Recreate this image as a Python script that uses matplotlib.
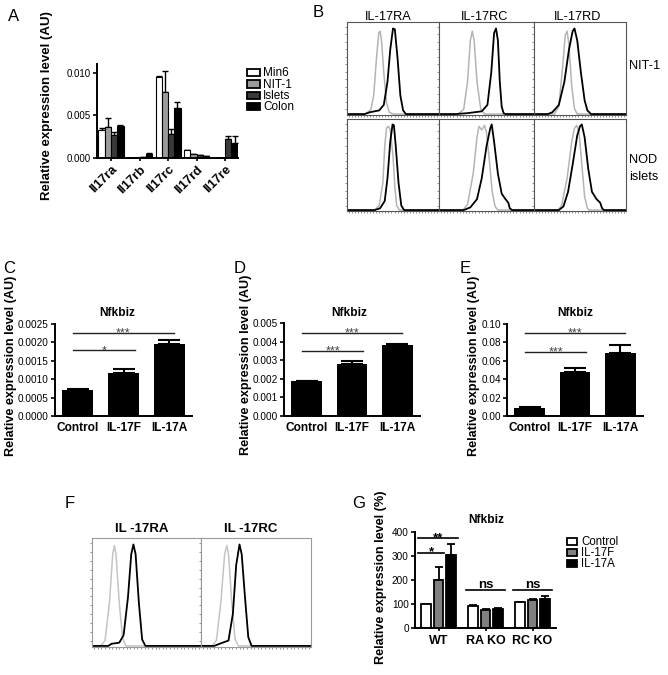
import numpy as np
import matplotlib
matplotlib.use('Agg')
import matplotlib.pyplot as plt
from matplotlib.patches import Rectangle

plt.rcParams['font.family'] = ['Liberation Sans', 'DejaVu Sans']

# ---- data: panel A (qPCR of IL-17 receptors) ----
genes = ['Il17ra', 'Il17rb', 'Il17rc', 'Il17rd', 'Il17re']
a_sources = ['Min6', 'NIT-1', 'Islets', 'Colon']
a_min6 = [0.0033, 0.0, 0.00945, 0.0009, 0.0]
a_nit1 = [0.0036, 0.0, 0.0077, 0.0005, 0.0]
a_islets = [0.0027, 0.0001, 0.0028, 0.0004, 0.0022]
a_colon = [0.0038, 0.0005, 0.0058, 0.0002, 0.0017]
a_min6_err = [0.0002, 0.0, 0.0001, 0.0, 0.0]
a_nit1_err = [0.0011, 0.0, 0.0025, 0.0, 0.0]
a_islets_err = [0.0004, 0.0, 0.0006, 0.0, 0.00035]
a_colon_err = [0.0001, 0.0001, 0.0008, 0.0, 0.0009]

# ---- data: panels C, D, E (Nfkbiz) ----
treatments = ['Control', 'IL-17F', 'IL-17A']
c_vals = [0.00070, 0.00118, 0.00195]
c_err = [0.00004, 0.00009, 0.00012]
d_vals = [0.00188, 0.00282, 0.00383]
d_err = [0.00002, 0.00012, 0.00003]
e_vals = [0.009, 0.048, 0.069]
e_err = [0.0005, 0.004, 0.008]
c_sig = [0.00178, 0.00225]
d_sig = [0.0035, 0.00446]
e_sig = [0.070, 0.090]
c_stars = ['*', '***']
d_stars = ['***', '***']
e_stars = ['***', '***']

# ---- data: panel G ----
g_groups = ['WT', 'RA KO', 'RC KO']
g_control = [100, 92, 107]
g_il17f = [200, 75, 115]
g_il17a = [305, 78, 120]
g_control_err = [0, 3, 3]
g_il17f_err = [55, 3, 5]
g_il17a_err = [45, 7, 15]
g_wt_sig = [314, 374]
g_wt_stars = ['*', '**']
g_ns = 158

# ---- data: flow histograms (x, y as fraction of box) ----
b_nit1_ra_iso = [(0, 0), (0.2, 0), (0.26, 0.05), (0.29, 0.2), (0.32, 0.6), (0.345, 0.88), (0.36, 0.9),
                 (0.375, 0.8), (0.4, 0.45), (0.43, 0.12), (0.46, 0.02), (0.5, 0), (1, 0)]
b_nit1_ra_ab = [(0, 0), (0.19, 0), (0.25, 0.02), (0.35, 0.04), (0.4, 0.1), (0.44, 0.35), (0.47, 0.7),
                (0.5, 0.93), (0.52, 0.92), (0.55, 0.6), (0.58, 0.2), (0.61, 0.04), (0.64, 0), (1, 0)]
b_nit1_rc_iso = [(0, 0), (0.2, 0), (0.26, 0.05), (0.3, 0.35), (0.33, 0.8), (0.35, 0.9), (0.37, 0.8),
                 (0.4, 0.35), (0.44, 0.05), (0.48, 0), (1, 0)]
b_nit1_rc_ab = [(0, 0), (0.17, 0), (0.3, 0.01), (0.45, 0.03), (0.51, 0.1), (0.55, 0.45), (0.58, 0.88),
                (0.6, 0.93), (0.62, 0.8), (0.64, 0.35), (0.66, 0.08), (0.68, 0.01), (0.7, 0), (1, 0)]
b_nit1_rd_iso = [(0, 0), (0.22, 0), (0.27, 0.08), (0.31, 0.5), (0.34, 0.86), (0.36, 0.9), (0.38, 0.75),
                 (0.41, 0.3), (0.44, 0.06), (0.47, 0), (1, 0)]
b_nit1_rd_ab = [(0, 0), (0.15, 0), (0.2, 0.02), (0.27, 0.1), (0.33, 0.35), (0.38, 0.7), (0.42, 0.9),
                (0.44, 0.93), (0.47, 0.8), (0.51, 0.45), (0.55, 0.15), (0.58, 0.04), (0.62, 0), (1, 0)]
b_nod_ra_iso = [(0, 0), (0.3, 0), (0.35, 0.05), (0.39, 0.3), (0.41, 0.7), (0.43, 0.9), (0.45, 0.92),
                (0.47, 0.88), (0.5, 0.6), (0.52, 0.25), (0.54, 0.05), (0.57, 0), (1, 0)]
b_nod_ra_ab = [(0, 0), (0.3, 0), (0.36, 0.02), (0.41, 0.1), (0.44, 0.35), (0.47, 0.75), (0.495, 0.94),
               (0.51, 0.93), (0.53, 0.7), (0.56, 0.3), (0.59, 0.05), (0.62, 0), (1, 0)]
b_nod_rc_iso = [(0, 0), (0.25, 0), (0.3, 0.06), (0.36, 0.4), (0.4, 0.8), (0.42, 0.92), (0.45, 0.88),
                (0.48, 0.93), (0.5, 0.85), (0.53, 0.55), (0.56, 0.2), (0.59, 0.04), (0.62, 0), (1, 0)]
b_nod_rc_ab = [(0, 0), (0.26, 0), (0.33, 0.03), (0.4, 0.12), (0.45, 0.35), (0.5, 0.7), (0.54, 0.9),
               (0.555, 0.94), (0.58, 0.75), (0.62, 0.4), (0.66, 0.18), (0.7, 0.12), (0.73, 0.08),
               (0.745, 0.02), (0.77, 0), (1, 0)]
b_nod_rd_iso = [(0, 0), (0.26, 0), (0.3, 0.05), (0.36, 0.35), (0.41, 0.75), (0.44, 0.9), (0.465, 0.93),
                (0.49, 0.85), (0.52, 0.5), (0.55, 0.15), (0.58, 0.02), (0.6, 0), (1, 0)]
b_nod_rd_ab = [(0, 0), (0.27, 0), (0.32, 0.04), (0.37, 0.2), (0.42, 0.5), (0.47, 0.82), (0.5, 0.92),
               (0.52, 0.94), (0.55, 0.8), (0.59, 0.45), (0.63, 0.2), (0.68, 0.12), (0.72, 0.08),
               (0.74, 0.02), (0.76, 0), (1, 0)]
f_ra_iso = [(0, 0), (0.08, 0), (0.12, 0.05), (0.16, 0.4), (0.19, 0.85), (0.205, 0.93), (0.22, 0.85),
            (0.25, 0.4), (0.28, 0.08), (0.31, 0), (1, 0)]
f_ra_ab = [(0, 0), (0.15, 0), (0.18, 0.02), (0.25, 0.03), (0.29, 0.1), (0.33, 0.45), (0.36, 0.85),
           (0.38, 0.94), (0.4, 0.85), (0.43, 0.4), (0.46, 0.06), (0.49, 0), (1, 0)]
f_rc_iso = [(0, 0), (0.1, 0), (0.14, 0.05), (0.18, 0.4), (0.215, 0.85), (0.235, 0.93), (0.25, 0.85),
            (0.28, 0.4), (0.31, 0.06), (0.34, 0), (1, 0)]
f_rc_ab = [(0, 0), (0.12, 0), (0.17, 0.02), (0.25, 0.05), (0.29, 0.3), (0.32, 0.75), (0.35, 0.94),
           (0.37, 0.85), (0.4, 0.45), (0.43, 0.08), (0.46, 0), (1, 0)]

W, H = 668, 675
fig = plt.figure(figsize=(W / 100, H / 100), dpi=100)


def px_axes(x0, y0, x1, y1):
    return fig.add_axes([x0 / W, 1 - y1 / H, (x1 - x0) / W, (y1 - y0) / H])


def ftext(x, y, s, **kw):
    fig.text(x / W, 1 - y / H, s, **kw)


def legend_box(x, yc, w, h, color, lw=1.3):
    fig.add_artist(Rectangle((x / W, 1 - (yc + h / 2) / H), w / W, h / H, transform=fig.transFigure,
                             facecolor=color, edgecolor='black', linewidth=lw))


def prism_axes(ax):
    for s in ['top', 'right']:
        ax.spines[s].set_visible(False)
    for s in ['left', 'bottom']:
        ax.spines[s].set_linewidth(1.4)
    ax.tick_params(axis='y', length=3, width=1.2, pad=1.5, labelsize=7.2)


# ---- Panel A ----
ax = px_axes(96.7, 64, 238, 158)
x = np.arange(len(genes))
bw = 0.22
a_series = [(a_min6, a_min6_err, 'white'), (a_nit1, a_nit1_err, '#9a9a9a'),
            (a_islets, a_islets_err, '#3a3a3a'), (a_colon, a_colon_err, 'black')]
for i, (vals, errs, col) in enumerate(a_series):
    xs = x + (i - 1.5) * bw
    ax.errorbar(xs, vals, yerr=[np.zeros(len(errs)), errs], fmt='none', ecolor='black',
                elinewidth=1, capsize=2, capthick=1, zorder=1)
    ax.bar(xs, vals, bw, color=col, edgecolor='black', linewidth=0.8, zorder=2)
prism_axes(ax)
ax.set_xlim(-0.5, 4.45)
ax.set_ylim(0, 0.011)
ax.set_yticks([0, 0.005, 0.010])
ax.set_yticklabels(['0.000', '0.005', '0.010'], fontsize=7)
ax.set_xticks(x)
ax.set_xticklabels(genes, rotation=45, ha='right', rotation_mode='anchor', fontweight='bold', fontsize=9.2)
ax.tick_params(axis='x', length=2, width=1.2, pad=2)
ax.set_ylabel('Relative expression level (AU)', fontweight='bold', fontsize=9.5)
ax.yaxis.set_label_coords(-0.31, 0.56)

a_colors = ['white', '#9a9a9a', '#3a3a3a', 'black']
for i, (name, col) in enumerate(zip(a_sources, a_colors)):
    yc = 72.7 + i * 11.3
    legend_box(247, yc, 13, 7.5, col)
    ftext(263, yc + 0.5, name, fontsize=8.5, va='center')

ftext(8, 20.7, 'A', fontsize=12, va='baseline')

# ---- Panel B ----
b_curves = [[(b_nit1_ra_iso, b_nit1_ra_ab), (b_nit1_rc_iso, b_nit1_rc_ab), (b_nit1_rd_iso, b_nit1_rd_ab)],
            [(b_nod_ra_iso, b_nod_ra_ab), (b_nod_rc_iso, b_nod_rc_ab), (b_nod_rd_iso, b_nod_rd_ab)]]
b_cols = [(347, 439), (439, 534), (534, 626)]
b_rows = [(22, 115), (119, 211)]


def flow_box(ax, iso, ab, gray, spine_col):
    ax.plot(*zip(*iso), color=gray, lw=1.1)
    ax.plot(*zip(*ab), color='black', lw=1.3)
    ax.set_xlim(0, 1)
    ax.set_ylim(-0.01, 1)
    ax.set_xticks(np.linspace(0.02, 0.98, 30), minor=True)
    ax.set_yticks(np.linspace(0.05, 0.95, 12), minor=True)
    ax.set_xticks([])
    ax.set_yticks([])
    ax.tick_params(which='minor', length=1.5, width=0.5, color='#666', labelleft=False, labelbottom=False)
    for s in ax.spines.values():
        s.set_color(spine_col)
        s.set_linewidth(0.8)


for r, (y0, y1) in enumerate(b_rows):
    for c, (x0, x1) in enumerate(b_cols):
        ax = px_axes(x0, y0, x1, y1)
        iso, ab = b_curves[r][c]
        flow_box(ax, iso, ab, '#b4b4b4', '#555')

for name, xc in zip(['IL-17RA', 'IL-17RC', 'IL-17RD'], [388, 485, 578]):
    ftext(xc, 20, name, fontsize=9.2, ha='center', va='baseline')
ftext(629, 69, 'NIT-1', fontsize=9.2, va='baseline')
ftext(629, 163, 'NOD', fontsize=9.2, va='baseline')
ftext(629, 180, 'islets', fontsize=9.2, va='baseline')
ftext(313, 16.7, 'B', fontsize=12, va='baseline')


# ---- Panels C, D, E ----
def nfkbiz_panel(rect, vals, errs, ymax, ticks, fmt, sig_y, stars, lab_x, title_x):
    ax = px_axes(*rect)
    xs = np.arange(len(treatments))
    ax.errorbar(xs, vals, yerr=[np.zeros(len(errs)), errs], fmt='none', ecolor='black',
                elinewidth=1.5, capsize=8, capthick=1.5, zorder=1)
    ax.bar(xs, vals, 0.68, color='black', zorder=2)
    prism_axes(ax)
    ax.set_xlim(-0.5, 2.5)
    ax.set_ylim(0, ymax)
    ax.set_yticks(ticks)
    ax.set_yticklabels([fmt % t for t in ticks])
    ax.set_xticks(xs)
    ax.set_xticklabels(treatments, fontweight='bold', fontsize=8.6)
    ax.tick_params(axis='x', length=0, pad=4)
    ax.set_ylabel('Relative expression level (AU)', fontweight='bold', fontsize=9.1)
    ax.yaxis.set_label_coords(lab_x, 0.55)
    for yl, st, xe in zip(sig_y, stars, [1.25, 2.1]):
        ax.plot([-0.1, xe], [yl, yl], color='#222', lw=1)
        ax.annotate(st, ((-0.1 + xe) / 2, yl), xytext=(0, -2.5), textcoords='offset points',
                    ha='center', va='baseline', fontsize=9, color='#444')
    ftext(title_x, 316, 'Nfkbiz', fontsize=8.6, fontweight='bold', ha='center', va='baseline')
    return ax


nfkbiz_panel((55, 324, 192, 416), c_vals, c_err, 0.0025, [0, 0.0005, 0.0010, 0.0015, 0.0020, 0.0025],
             '%.4f', c_sig, c_stars, -0.275, 117)
nfkbiz_panel((284, 323, 420, 416), d_vals, d_err, 0.005, [0, 0.001, 0.002, 0.003, 0.004, 0.005],
             '%.3f', d_sig, d_stars, -0.235, 349)
nfkbiz_panel((507, 324, 643, 416), e_vals, e_err, 0.10, [0, 0.02, 0.04, 0.06, 0.08, 0.10],
             '%.2f', e_sig, e_stars, -0.2, 575)
ftext(3, 273, 'C', fontsize=12, va='baseline')
ftext(234, 273, 'D', fontsize=12, va='baseline')
ftext(460, 273, 'E', fontsize=12, va='baseline')

# ---- Panel F ----
for (x0, x1), (iso, ab), name, xc in zip([(92, 201), (201, 311)], [(f_ra_iso, f_ra_ab), (f_rc_iso, f_rc_ab)],
                                         ['IL -17RA', 'IL -17RC'], [142, 251]):
    ax = px_axes(x0, 538, x1, 647)
    flow_box(ax, iso, ab, '#c4c4c4', '#999')
    ftext(xc, 531.7, name, fontsize=9.5, fontweight='bold', ha='center', va='baseline')
ftext(65, 508, 'F', fontsize=12, va='baseline')

# ---- Panel G ----
ax = px_axes(415, 532, 556, 628)
xg = np.arange(len(g_groups))
gw = 0.21
g_series = [(g_control, g_control_err, 'white'), (g_il17f, g_il17f_err, '#808080'),
            (g_il17a, g_il17a_err, 'black')]
for i, (vals, errs, col) in enumerate(g_series):
    xs = xg + (i - 1) * 0.26
    ax.errorbar(xs, vals, yerr=[np.zeros(len(errs)), errs], fmt='none', ecolor='black',
                elinewidth=1.3, capsize=3, capthick=1.3, zorder=1)
    ax.bar(xs, vals, gw, color=col, edgecolor='black', linewidth=1.3, zorder=2)
prism_axes(ax)
ax.set_xlim(-0.5, 2.5)
ax.set_ylim(0, 400)
ax.set_yticks([0, 100, 200, 300, 400])
ax.set_xticks(xg)
ax.set_xticklabels(g_groups, fontweight='bold', fontsize=9)
ax.tick_params(axis='x', length=2, width=1.2, pad=3)
ax.set_ylabel('Relative expression level (%)', fontweight='bold', fontsize=9.1)
ax.yaxis.set_label_coords(-0.2, 0.53)
for yl, st, xe in zip(g_wt_sig, g_wt_stars, [0.12, 0.41]):
    ax.plot([-0.43, xe], [yl, yl], color='black', lw=1.2)
    ax.annotate(st, ((-0.43 + xe) / 2, yl), xytext=(0, -2), textcoords='offset points',
                ha='center', va='baseline', fontsize=9.5, fontweight='bold')
for g in xg[1:]:
    ax.plot([g - 0.42, g + 0.42], [g_ns, g_ns], color='black', lw=1.2)
    ax.annotate('ns', (g, g_ns), xytext=(0, 1.5), textcoords='offset points',
                ha='center', va='baseline', fontsize=9.5, fontweight='bold')
ftext(486, 523, 'Nfkbiz', fontsize=8.6, fontweight='bold', ha='center', va='baseline')
for i, (name, col) in enumerate(zip(treatments, ['white', '#808080', 'black'])):
    yc = 541.5 + i * 11
    legend_box(567, yc, 10, 7, col)
    ftext(581, yc + 0.5, name, fontsize=8.3, va='center')
ftext(352, 508, 'G', fontsize=12, va='baseline')

fig.savefig('out.png', dpi=100)
